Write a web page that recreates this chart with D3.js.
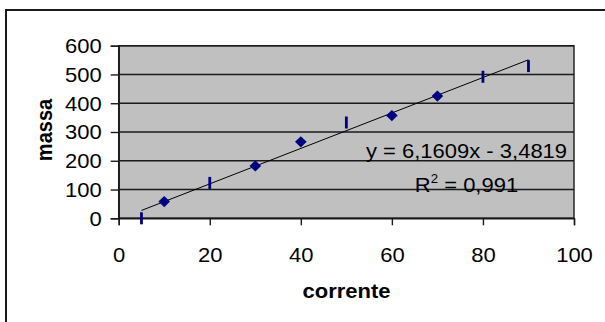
<!DOCTYPE html>
<html>
<head>
<meta charset="utf-8">
<script src="https://cdn.jsdelivr.net/npm/d3@7"></script>
<style>
  body { margin: 0; background: #fff; }
  text { font-family: "Liberation Sans", Arial, sans-serif; }
</style>
</head>
<body>
<div id="chart"></div>
<script>
// data
const corrDiamond = [10, 30, 40, 60, 70];
const massDiamond = [58, 182, 266, 357, 425];
const corrDash = [5, 20, 50, 80, 90];
const massDash = [0, 123, 333, 492, 529];
const yTicks = [0, 100, 200, 300, 400, 500, 600];
const xTicks = [0, 20, 40, 60, 80, 100];
const slope = 6.1609, intercept = -3.4819;
const eqLabel = "y = 6,1609x - 3,4819";
const r2Label = "0,991";

const W = 605, H = 322;
const margin = {top: 45.7, right: 31, bottom: 103.7, left: 118.7},
  width = W - margin.left - margin.right,
  height = H - margin.top - margin.bottom;
const sx = 1.1; // the original is a little wider than tall

const svg = d3.select("#chart")
  .append("svg")
  .attr("width", W)
  .attr("height", H);

// outer frame (continues past the right and bottom edges)
svg.append("rect")
  .attr("x", 6).attr("y", 10)
  .attr("width", 620).attr("height", 340)
  .attr("fill", "none")
  .attr("stroke", "#1a1a1a")
  .attr("stroke-width", 2);

const chart = svg.append("g")
  .attr("transform", "translate(" + margin.left + "," + margin.top + ")");

const x = d3.scaleLinear().domain([0, 100]).range([0, width]);
const y = d3.scaleLinear().domain([0, 600]).range([height, 0]);

chart.append("rect")
  .attr("width", width).attr("height", height)
  .attr("fill", "#c0c0c0");

// gridlines
chart.selectAll(".grid")
  .data(yTicks)
  .enter().append("line")
  .attr("class", "grid")
  .attr("x1", 0).attr("x2", width)
  .attr("y1", d => y(d)).attr("y2", d => y(d))
  .attr("stroke", "#1a1a1a")
  .attr("stroke-width", 1.4);

// plot border
chart.append("rect")
  .attr("width", width).attr("height", height)
  .attr("fill", "none")
  .attr("stroke", "#1a1a1a")
  .attr("stroke-width", 1.4);

const yAxis = d3.axisLeft(y).tickValues(yTicks).tickSize(8).tickPadding(9);
const xAxis = d3.axisBottom(x).tickValues(xTicks).tickSize(7);

const yG = chart.append("g").call(yAxis);
const xG = chart.append("g")
  .attr("transform", "translate(0," + height + ")")
  .call(xAxis);

[yG, xG].forEach(g => {
  g.select(".domain").attr("stroke", "#1a1a1a").attr("stroke-width", 1.4);
  g.selectAll(".tick line").attr("stroke", "#1a1a1a").attr("stroke-width", 1.4);
  g.selectAll(".tick text")
    .attr("font-size", 20)
    .attr("font-family", "Liberation Sans, Arial, sans-serif")
    .attr("fill", "#000");
});
yG.selectAll(".tick text")
  .attr("x", 0)
  .attr("dy", "0.34em")
  .attr("transform", "translate(-17,0) scale(" + sx + ",1)");
xG.selectAll(".tick text")
  .attr("y", 0)
  .attr("dy", 0)
  .attr("transform", "translate(0,43.4) scale(" + sx + ",1)");

// trendline
const xr = d3.extent(corrDiamond.concat(corrDash));
chart.append("path")
  .datum(xr)
  .attr("fill", "none")
  .attr("stroke", "#000")
  .attr("stroke-width", 1)
  .attr("d", d3.line().x(d => x(d)).y(d => y(slope * d + intercept)));

// diamond markers
chart.selectAll(".dia")
  .data(corrDiamond)
  .enter().append("path")
  .attr("class", "dia")
  .attr("transform", (d, i) => "translate(" + x(d) + "," + y(massDiamond[i]) + ")")
  .attr("d", "M0,-5.6L5.8,0L0,5.6L-5.8,0Z")
  .attr("fill", "#000080");

// dash markers
chart.selectAll(".dash")
  .data(corrDash)
  .enter().append("rect")
  .attr("class", "dash")
  .attr("x", d => x(d) - 1.4)
  .attr("y", (d, i) => y(massDash[i]) - 6)
  .attr("width", 2.8)
  .attr("height", 12)
  .attr("fill", "#000080");

// trendline labels
const lx = 466.5 - margin.left;
chart.append("text")
  .attr("transform", "translate(" + lx + "," + (158.3 - margin.top) + ") scale(" + sx + ",1)")
  .attr("text-anchor", "middle")
  .attr("font-size", 20)
  .text(eqLabel);

const r2 = chart.append("text")
  .attr("transform", "translate(" + lx + "," + (191.5 - margin.top) + ") scale(" + sx + ",1)")
  .attr("text-anchor", "middle")
  .attr("font-size", 20);
r2.append("tspan").text("R");
r2.append("tspan").attr("font-size", 12).attr("dy", -9).text("2");
r2.append("tspan").attr("dy", 9).text(" = " + r2Label);

// axis titles
svg.append("text")
  .attr("transform", "translate(346.5,298.3) scale(" + sx + ",1)")
  .attr("text-anchor", "middle")
  .attr("font-size", 20)
  .attr("font-weight", "bold")
  .text("corrente");

svg.append("text")
  .attr("transform", "translate(51.5,130) scale(" + sx + ",1) rotate(-90)")
  .attr("text-anchor", "middle")
  .attr("font-size", 20)
  .attr("font-weight", "bold")
  .text("massa");
</script>
</body>
</html>
